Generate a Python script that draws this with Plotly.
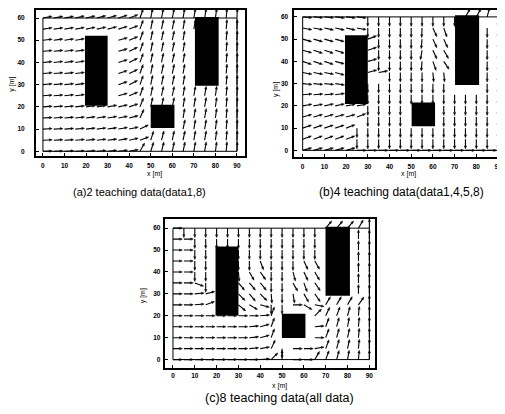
import math
import plotly.graph_objects as go

N = None
# grid of the vector field (metres)
x_grid = [0, 5, 10, 15, 20, 25, 30, 35, 40, 45, 50, 55, 60, 65, 70, 75, 80, 85, 90]
y_rows = [60, 55, 50, 45, 40, 35, 30, 25, 20, 15, 10, 5, 0]   # rows listed top -> bottom

# arrow directions in degrees (0 = +x, 90 = +y), None = hidden under an obstacle
angles_a = [
    [10, 10, 10, 12, 12, 14, 15, 17, 20, 70, 78, 78, 78, 80, 80, 80, 82, 85, 88],
    [8, 8, 9, 10, 11, 12, 14, 16, 20, 70, 78, 78, 78, 80, 80, 80, 82, 85, 88],
    [6, 7, 8, 9, 10, N, N, 15, 22, 70, 78, 78, 78, 80, N, N, N, 85, 88],
    [5, 6, 7, 8, 9, N, N, 15, 25, 70, 78, 78, 78, 80, N, N, N, 85, 88],
    [5, 6, 7, 8, 9, N, N, 16, 25, 70, 78, 78, 78, 80, N, N, N, 85, 88],
    [5, 5, 6, 7, 8, N, N, 18, 25, 70, 78, 78, 78, 80, N, N, N, 85, 88],
    [5, 5, 6, 7, 8, N, N, 18, 25, 70, 78, 78, 78, 80, N, N, N, 85, 88],
    [4, 5, 6, 7, 8, N, N, 15, 22, 70, 78, 78, 78, 80, 80, 80, 82, 85, 88],
    [4, 5, 5, 6, 7, 8, 10, 12, 18, 68, 78, 78, 78, 80, 80, 80, 82, 85, 88],
    [3, 4, 5, 6, 7, 8, 9, 10, 14, 65, N, N, N, 80, 80, 80, 82, 85, 88],
    [3, 3, 4, 5, 6, 7, 8, 10, 12, 25, N, N, N, 78, 80, 80, 82, 85, 88],
    [2, 3, 3, 4, 5, 6, 7, 9, 12, 20, 72, 75, 78, 78, 80, 80, 82, 85, 88],
    [2, 2, 3, 3, 4, 5, 6, 7, 10, 60, 72, 75, 78, 78, 80, 80, 82, 85, 88],
]
angles_b = [
    [-5, -5, -5, -6, -6, -6, -90, -90, -90, -90, -90, -90, -90, -90, -90, 60, 60, 75, -90],
    [-10, -10, -12, -12, -12, -10, -90, -90, -90, -90, -90, -92, -65, -70, N, N, N, -90, -90],
    [-15, -15, -15, -15, N, N, 20, -90, -90, -90, -90, -95, -65, -65, N, N, N, -90, -90],
    [-15, -18, -18, -18, N, N, 18, -90, -90, -90, -90, -100, -65, -60, N, N, N, -90, -90],
    [-18, -18, -18, -15, N, N, 15, -90, -90, -90, -90, -95, -70, -55, N, N, N, -90, -90],
    [-10, -10, -10, -15, N, N, 15, 10, -90, -90, -90, -90, -85, -85, N, N, N, -90, -90],
    [-5, -5, -5, -8, N, N, -90, -90, -90, -90, -90, -90, -90, -90, N, N, N, -90, -90],
    [5, 5, 5, 8, N, N, -90, -90, -90, -90, -90, -90, -90, -90, -90, -90, -90, -90, -90],
    [10, 10, 12, 12, 10, 10, -90, -90, -90, -90, N, N, N, -90, -90, -90, -90, -90, -90],
    [15, 15, 15, 15, 15, 20, -90, -90, -90, -90, N, N, N, -90, -90, -90, -90, -90, -90],
    [18, 18, 18, 18, 20, -90, -90, -90, -90, -90, -90, -90, -90, -90, -90, -90, -90, -90, -90],
    [20, 20, 20, 20, 20, -90, -90, -90, -90, -90, -90, -90, -90, -90, -90, -90, -90, -90, -90],
    [15, 15, 15, 15, 15, 0, 0, 0, 0, 0, 0, 0, 0, 0, 0, 0, 0, 0, 0],
]
angles_c = [
    [0, -90, -90, -90, -90, -90, -90, -90, -90, -90, -90, -90, -90, -90, 50, 50, 50, 60, 90],
    [0, 0, -90, -90, -90, -90, -90, -90, -90, -90, -90, -90, -90, -90, N, N, N, 90, 90],
    [0, 0, -90, -90, N, N, -90, -90, -90, -90, -90, -90, -90, -90, N, N, N, 90, 90],
    [0, 0, -90, -90, N, N, -90, -90, -70, -90, -90, -90, -65, -60, N, N, N, 90, 90],
    [0, 0, -90, -90, N, N, -85, -60, -55, -90, -90, -75, -65, -60, N, N, N, 90, 90],
    [0, 0, -20, -90, N, N, -50, -50, -50, -90, -90, -60, -70, -55, N, N, N, 90, 90],
    [0, 0, 5, 15, N, N, -45, -50, -45, -85, -90, -80, -60, -55, N, N, N, 90, 90],
    [0, 0, 5, 20, N, N, -40, -30, -15, -90, -90, 0, -30, -10, 60, 60, 60, 55, 90],
    [0, 0, 0, 0, 0, 0, 0, 0, 5, 70, N, N, N, 45, 65, 70, 75, 85, 90],
    [0, 0, 0, 0, 0, 0, 0, 5, 15, 70, N, N, N, 5, 70, 75, 80, 85, 90],
    [0, 0, 0, 0, 0, 0, 0, 5, 15, 70, N, N, N, 0, 70, 75, 78, 85, 90],
    [0, 0, 0, 0, 0, 0, 0, 5, 10, 65, -90, 0, 0, 10, 70, 75, 78, 85, 90],
    [0, 0, 0, 0, 0, 0, 0, 0, 5, 45, 90, 0, 0, 60, 70, 75, 80, 85, 90],
]

# obstacles (x0, x1, y0, y1) in metres
obstacles_a = [(19.5, 30, 20.5, 52), (50, 61, 10.5, 21), (70.5, 81.5, 29.5, 60.5)]
obstacles_b = [(19.5, 30, 20.8, 51.8), (50.2, 61, 10.8, 21.5), (70.2, 81.3, 29.4, 60.7)]
obstacles_c = [(19.5, 30, 20.1, 51.6), (49.9, 60.7, 9.8, 20.9), (69.9, 81.1, 29.2, 60.6)]
room = (0, 90, 0, 60)

captions = ["(a)2 teaching data(data1,8)", "(b)4 teaching data(data1,4,5,8)", "(c)8 teaching data(all data)"]
x_ticks = [0, 10, 20, 30, 40, 50, 60, 70, 80, 90]
y_ticks = [0, 10, 20, 30, 40, 50, 60]

# the page body has an 8 px margin: size the figure to fit and convert page pixels
OFF = 8
W, H = 505 - OFF, 414 - OFF


def px_x(p):
    return min(1.0, max(0.0, (p - OFF) / W))


def px_y(p):
    return min(1.0, max(0.0, 1 - (p - OFF) / H))


def arrow_paths(angles, L=4.3, h=1.3, w=0.5):
    sx, sy, hx, hy = [], [], [], []
    for yv, row in zip(y_rows, angles):
        for xv, a in zip(x_grid, row):
            if a is None:
                continue
            t = math.radians(a)
            c, s = math.cos(t), math.sin(t)
            tx, ty = xv + L * c, yv + L * s
            bx, by = tx - h * c, ty - h * s
            sx += [xv, bx, None]
            sy += [yv, by, None]
            hx += [tx, bx - w * s, bx + w * s, tx, None]
            hy += [ty, by + w * c, by - w * c, ty, None]
    return sx, sy, hx, hy


panels = [
    dict(ang=angles_a, obs=obstacles_a, xd=[px_x(36), px_x(245)], yd=[px_y(155), px_y(8)],
         xr=[-3.24, 93.5], yr=[-2.24, 63.6], ysoff=8, xsoff=2),
    dict(ang=angles_b, obs=obstacles_b, xd=[px_x(295), px_x(504)], yd=[px_y(156), px_y(8)],
         xr=[-3.8, 92.3], yr=[-3.1, 63.1], ysoff=3, xsoff=2),
    dict(ang=angles_c, obs=obstacles_c, xd=[px_x(165), px_x(376)], yd=[px_y(368), px_y(218)],
         xr=[-3.8, 92.7], yr=[-3.95, 64.2], ysoff=1, xsoff=0),
]

fig = go.Figure()
shapes = []
layout_axes = {}
for i, p in enumerate(panels):
    k = "" if i == 0 else str(i + 1)
    sx, sy, hx, hy = arrow_paths(p["ang"])
    fig.add_trace(go.Scatter(x=sx, y=sy, mode="lines", line=dict(color="black", width=1.1),
                             xaxis="x" + k, yaxis="y" + k, hoverinfo="skip", showlegend=False))
    fig.add_trace(go.Scatter(x=hx, y=hy, mode="lines", fill="toself", fillcolor="black",
                             line=dict(color="black", width=0.5),
                             xaxis="x" + k, yaxis="y" + k, hoverinfo="skip", showlegend=False))
    shapes.append(dict(type="rect", xref="x" + k, yref="y" + k, x0=room[0], x1=room[1], y0=room[2], y1=room[3],
                       line=dict(color="black", width=1), layer="below"))
    for (x0, x1, y0, y1) in p["obs"]:
        shapes.append(dict(type="rect", xref="x" + k, yref="y" + k, x0=x0, x1=x1, y0=y0, y1=y1,
                           fillcolor="black", line=dict(color="black", width=0), layer="above"))
    common = dict(showgrid=False, zeroline=False, showline=True, linecolor="black", linewidth=2,
                  mirror=True, ticks="inside", ticklen=3, tickwidth=1, tickcolor="black",
                  tickfont=dict(size=6.5, family="Liberation Sans", color="black", weight="bold"),
                  fixedrange=True)
    layout_axes["xaxis" + k] = dict(common, domain=p["xd"], range=p["xr"], tickvals=x_ticks,
                                    anchor="y" + k, ticklabelstandoff=p["xsoff"])
    layout_axes["yaxis" + k] = dict(common, domain=p["yd"], range=p["yr"], tickvals=y_ticks,
                                    anchor="x" + k, ticklabelstandoff=p["ysoff"])

ann = []
small = dict(size=7, family="Liberation Sans", color="black")
for (tx, ty) in [(155, 173), (409, 173), (280, 386)]:
    ann.append(dict(text="x [m]", x=px_x(tx), y=px_y(ty), xref="paper", yref="paper",
                    showarrow=False, font=small, xanchor="center", yanchor="middle"))
for (tx, ty) in [(12, 82), (276, 88), (143, 295)]:
    ann.append(dict(text="y [m]", x=px_x(tx), y=px_y(ty), xref="paper", yref="paper",
                    showarrow=False, font=small, textangle=-90, xanchor="center", yanchor="middle"))
for cap, (tx, ty), fs in zip(captions, [(139.5, 191), (402, 191), (280, 398)], [11, 12, 12.5]):
    ann.append(dict(text=cap, x=px_x(tx), y=px_y(ty), xref="paper", yref="paper",
                    showarrow=False, font=dict(size=fs, family="Liberation Sans", color="black"),
                    xanchor="center", yanchor="middle"))

fig.update_layout(width=W, height=H, margin=dict(l=0, r=0, t=0, b=0),
                  paper_bgcolor="white", plot_bgcolor="white", showlegend=False,
                  shapes=shapes, annotations=ann, **layout_axes)
fig.write_html("out.html")
